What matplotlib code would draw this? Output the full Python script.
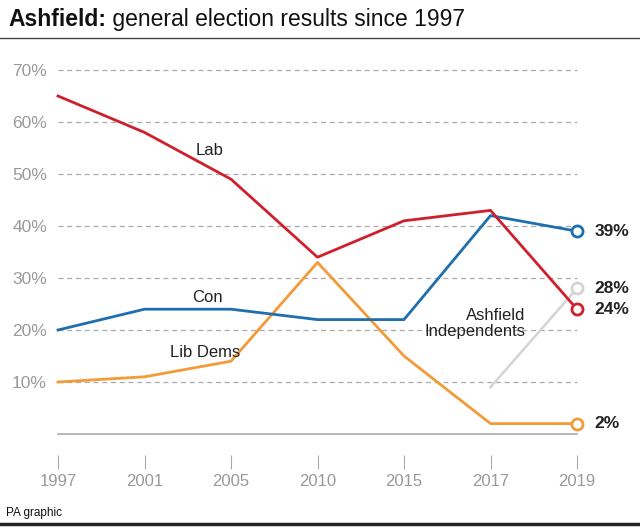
import matplotlib.pyplot as plt

plt.rcParams['font.family'] = ['Liberation Sans', 'DejaVu Sans']

years = ['1997', '2001', '2005', '2010', '2015', '2017', '2019']
lab = [65, 58, 49, 34, 41, 43, 24]
con = [20, 24, 24, 22, 22, 42, 39]
lib_dems = [10, 11, 14, 33, 15, 2, 2]
ashfield_ind = [None, None, None, None, None, 9, 28]
y_ticks = [10, 20, 30, 40, 50, 60, 70]

red = '#d01f2c'
blue = '#1f6fae'
orange = '#f29b38'
grey = '#d4d4d4'

fig = plt.figure(figsize=(6.4, 5.29), dpi=100)
ax = fig.add_axes([58 / 640, 1 - 434 / 529, (577 - 58) / 640, (434 - 70) / 529])

x = list(range(len(years)))

# gridlines and baseline
for v in y_ticks:
    ax.plot([0, 6], [v, v], color='#aaaaaa', lw=0.9, ls=(0, (4, 3)), zorder=1)
ax.plot([0, 6], [0, 0], color='#aaaaaa', lw=1.2, zorder=1)

ai_x = [i for i, v in zip(x, ashfield_ind) if v is not None]
ai_y = [v for v in ashfield_ind if v is not None]
ax.plot(ai_x, ai_y, color=grey, lw=1.8, zorder=2)
ax.plot(x, lib_dems, color=orange, lw=2, zorder=3)
ax.plot(x, con, color=blue, lw=2, zorder=3)
ax.plot(x, lab, color=red, lw=2, zorder=4)

# end markers and labels
for series, col in [(con, blue), (ai_y, grey), (lab, red), (lib_dems, orange)]:
    ax.plot(6, series[-1], 'o', ms=8, mfc='white', mec=col, mew=2, zorder=5)
    ax.text(6.2, series[-1], f'{series[-1]}%', fontsize=12.5, fontweight='bold',
            color='#222222', va='center', ha='left')

ax.text(1.75, 54.6, 'Lab', fontsize=12, ha='center', va='center', color='#222222')
ax.text(1.73, 26.2, 'Con', fontsize=12, ha='center', va='center', color='#222222')
ax.text(1.7, 15.7, 'Lib Dems', fontsize=12, ha='center', va='center', color='#222222')
ax.text(5.4, 21.2, 'Ashfield\nIndependents', fontsize=12, ha='right', va='center',
        color='#222222', linespacing=1.1)

ax.set_xlim(0, 6)
ax.set_ylim(0, 70)
ax.set_xticks(x)
ax.set_xticklabels(years)
ax.set_yticks(y_ticks)
ax.set_yticklabels([f'{v}%' for v in y_ticks])
for s in ax.spines.values():
    s.set_visible(False)
ax.spines['bottom'].set_position(('outward', 15))
ax.tick_params(axis='x', length=10, width=0.8, color='#aaaaaa', labelcolor='#999999',
               labelsize=12, pad=4)
ax.tick_params(axis='y', length=0, labelcolor='#999999', labelsize=12.5, pad=8)
for line in ax.lines:
    line.set_clip_on(False)

# title and frame lines
t = fig.text(8 / 640, 1 - 26 / 529, 'Ashfield:', fontsize=16.5, fontweight='bold',
             ha='left', va='baseline', color='#111111')
ax.annotate(' general election results since 1997', xy=(1, 0), xycoords=t,
            fontsize=16.5, ha='left', va='bottom', color='#111111',
            annotation_clip=False)
fig.add_artist(plt.Line2D([0, 1], [1 - 38 / 529, 1 - 38 / 529], color='#444444', lw=1))
fig.text(6 / 640, 1 - 513 / 529, 'PA graphic', fontsize=8.5, ha='left', va='center',
         color='#111111')
fig.add_artist(plt.Line2D([0, 1], [1 - 524 / 529, 1 - 524 / 529], color='#222222', lw=2.5))

fig.savefig('out.png', dpi=100)
